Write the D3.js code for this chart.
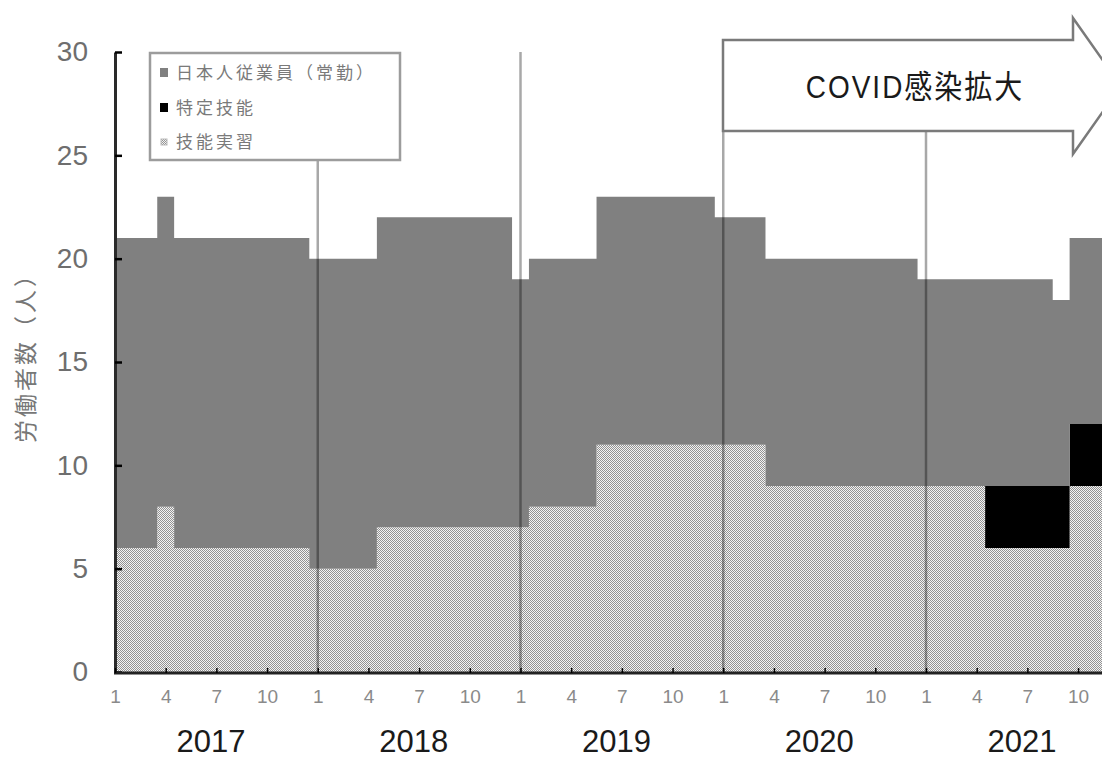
<!DOCTYPE html>
<html>
<head>
<meta charset="utf-8">
<script src="https://cdn.jsdelivr.net/npm/d3@7"></script>
<style>
  html, body { margin: 0; padding: 0; background: #fff; }
  svg { display: block; font-family: "Liberation Sans", Arial, "Noto Sans CJK JP", sans-serif; }
</style>
</head>
<body>
<svg id="chart" width="1102" height="758"></svg>
<script>
// Monthly headcount, Jan 2017 – Dec 2021
const years = [2017, 2018, 2019, 2020, 2021];
const monthTickLabels = [1, 4, 7, 10];
const yTickValues = [0, 5, 10, 15, 20, 25, 30];
const seriesNames = ["日本人従業員（常勤）", "特定技能", "技能実習"];
const yAxisTitle = "労働者数（人）";
const bannerText = "COVID感染拡大";

// 日本人従業員（常勤）
const japaneseStaff = [
  15, 15, 15, 15, 15, 15, 15, 15, 15, 15, 15, 15,
  15, 15, 15, 15, 15, 15, 15, 15, 15, 15, 15, 15,
  12, 12, 12, 12, 12, 12, 12, 12, 12, 12, 12, 12,
  11, 11, 11, 11, 11, 11, 11, 11, 11, 11, 11, 11,
  10, 10, 10, 10, 10, 10, 10, 10,  9,  9,  9,  9
];
// 特定技能
const specifiedSkilled = [
  0, 0, 0, 0, 0, 0, 0, 0, 0, 0, 0, 0,
  0, 0, 0, 0, 0, 0, 0, 0, 0, 0, 0, 0,
  0, 0, 0, 0, 0, 0, 0, 0, 0, 0, 0, 0,
  0, 0, 0, 0, 0, 0, 0, 0, 0, 0, 0, 0,
  0, 0, 0, 0, 3, 3, 3, 3, 3, 3, 3, 3
];
// 技能実習
const technicalTrainees = [
   6,  6,  6,  8,  6,  6,  6,  6,  6,  6,  6,  6,
   5,  5,  5,  5,  7,  7,  7,  7,  7,  7,  7,  7,
   7,  8,  8,  8,  8, 11, 11, 11, 11, 11, 11, 11,
  11, 11, 11,  9,  9,  9,  9,  9,  9,  9,  9,  9,
   9,  9,  9,  9,  6,  6,  6,  6,  6,  9,  9,  9
];

const rows = japaneseStaff.map((v, i) => ({
  idx: i,
  year: years[Math.floor(i / 12)],
  month: (i % 12) + 1,
  trainee: technicalTrainees[i],
  skilled: specifiedSkilled[i],
  japanese: v
}));

const W = 1102, H = 758;
const svg = d3.select("#chart");

const defs = svg.append("defs");
const pat = defs.append("pattern")
  .attr("id", "hatch")
  .attr("patternUnits", "userSpaceOnUse")
  .attr("width", 2).attr("height", 2);
pat.append("rect").attr("width", 2).attr("height", 2).attr("fill", "#f4f4f4");
pat.append("rect").attr("x", 0).attr("y", 0).attr("width", 1).attr("height", 1).attr("fill", "#929292");
pat.append("rect").attr("x", 1).attr("y", 1).attr("width", 1).attr("height", 1).attr("fill", "#929292");

defs.append("clipPath").attr("id", "plotClip")
  .append("rect").attr("x", 116).attr("y", 0).attr("width", W - 116).attr("height", 672);

// month index -> x ; 12 months per year band
const x = d3.scaleLinear().domain([0, 48]).range([115, 926]);
const y = d3.scaleLinear().domain([0, 30]).range([672, 52]);

const keys = ["trainee", "skilled", "japanese"];
const fills = { trainee: "url(#hatch)", skilled: "#000000", japanese: "#808080" };
const stacked = d3.stack().keys(keys)(rows);

const area = d3.area()
  .x(d => x(d.data.idx))
  .y0(d => y(d[0]))
  .y1(d => y(d[1]))
  .curve(d3.curveStep);

const plot = svg.append("g").attr("clip-path", "url(#plotClip)");
plot.selectAll("path.layer")
  .data(stacked)
  .join("path")
  .attr("class", "layer")
  .attr("d", area)
  .attr("fill", d => fills[d.key]);

// year separators
plot.selectAll("line.year-sep")
  .data(years.slice(1))
  .join("line")
  .attr("class", "year-sep")
  .attr("x1", (d, i) => x((i + 1) * 12))
  .attr("x2", (d, i) => x((i + 1) * 12))
  .attr("y1", y(0)).attr("y2", y(30))
  .attr("stroke", "#000").attr("stroke-opacity", 0.34).attr("stroke-width", 2.5);

// y axis
const yAxis = d3.axisLeft(y)
  .tickValues(yTickValues)
  .tickSizeInner(-7)
  .tickSizeOuter(0)
  .tickPadding(27);
const gy = svg.append("g").attr("transform", "translate(115,0)").call(yAxis);
gy.select(".domain").attr("stroke", "#2a2a2a").attr("stroke-width", 3);
gy.selectAll(".tick line").attr("stroke", "#000").attr("stroke-width", 2.5);
gy.selectAll(".tick text")
  .attr("fill", "#6e6e6e")
  .style("font-size", "28px");

// x axis: ticks every third month
const tickIdx = d3.range(0, 60, 3);
const xAxis = d3.axisBottom(x)
  .tickValues(tickIdx)
  .tickFormat(i => monthTickLabels[(i % 12) / 3])
  .tickSizeInner(-5)
  .tickSizeOuter(0)
  .tickPadding(17);
const gx = svg.append("g").attr("transform", "translate(0,673)").call(xAxis);
gx.select(".domain").attr("d", `M114,0H${W}`).attr("stroke", "#222").attr("stroke-width", 3);
gx.selectAll(".tick line").attr("stroke", "#000").attr("stroke-width", 1.5);
gx.selectAll(".tick text")
  .attr("fill", "#8a8a8a")
  .style("font-size", "19px");

// year labels
svg.append("g").selectAll("text")
  .data(years)
  .join("text")
  .attr("x", (d, i) => x(i * 12 + 5.5) + 3)
  .attr("y", 752)
  .attr("text-anchor", "middle")
  .attr("fill", "#1a1a1a")
  .style("font-size", "31px")
  .text(d => d);

// y axis title
svg.append("text")
  .attr("transform", "translate(26,352) rotate(-90)")
  .attr("dy", "0.35em")
  .attr("text-anchor", "middle")
  .attr("fill", "#777")
  .style("font-size", "23px")
  .style("letter-spacing", "3px")
  .text(yAxisTitle);

// legend
const lg = svg.append("g");
lg.append("rect")
  .attr("x", 150).attr("y", 53).attr("width", 250).attr("height", 107)
  .attr("fill", "#fff").attr("stroke", "#9c9c9c").attr("stroke-width", 2.5);
const legendRows = [
  { name: seriesNames[0], key: "japanese", cy: 73 },
  { name: seriesNames[1], key: "skilled", cy: 108 },
  { name: seriesNames[2], key: "trainee", cy: 142 }
];
legendRows.forEach(r => {
  if (r.key === "trainee") {
    lg.append("rect").attr("x", 161).attr("y", r.cy - 3).attr("width", 6).attr("height", 6)
      .attr("fill", "url(#hatch)").attr("stroke", "#bbb").attr("stroke-width", 1);
  } else {
    lg.append("rect").attr("x", 160).attr("y", r.cy - 5).attr("width", 8).attr("height", 9)
      .attr("fill", fills[r.key]);
  }
  lg.append("text")
    .attr("x", 176).attr("y", r.cy)
    .attr("dy", "0.36em")
    .attr("fill", "#7a7a7a")
    .style("font-size", "17px")
    .style("letter-spacing", "3px")
    .text(r.name);
});

// COVID banner arrow
const arrowPts = [[723, 40], [1073, 40], [1073, 18], [1121, 86], [1073, 154], [1073, 131], [723, 131]];
svg.append("path")
  .attr("d", d3.line()(arrowPts) + "Z")
  .attr("fill", "#fff")
  .attr("stroke", "#7a7a7a")
  .attr("stroke-width", 2.5);
svg.append("text")
  .attr("transform", "translate(915,86) scale(1,1.15)")
  .attr("dy", "0.36em")
  .attr("text-anchor", "middle")
  .attr("fill", "#1a1a1a")
  .style("font-size", "28px")
  .style("letter-spacing", "2px")
  .text(bannerText);
</script>
</body>
</html>
